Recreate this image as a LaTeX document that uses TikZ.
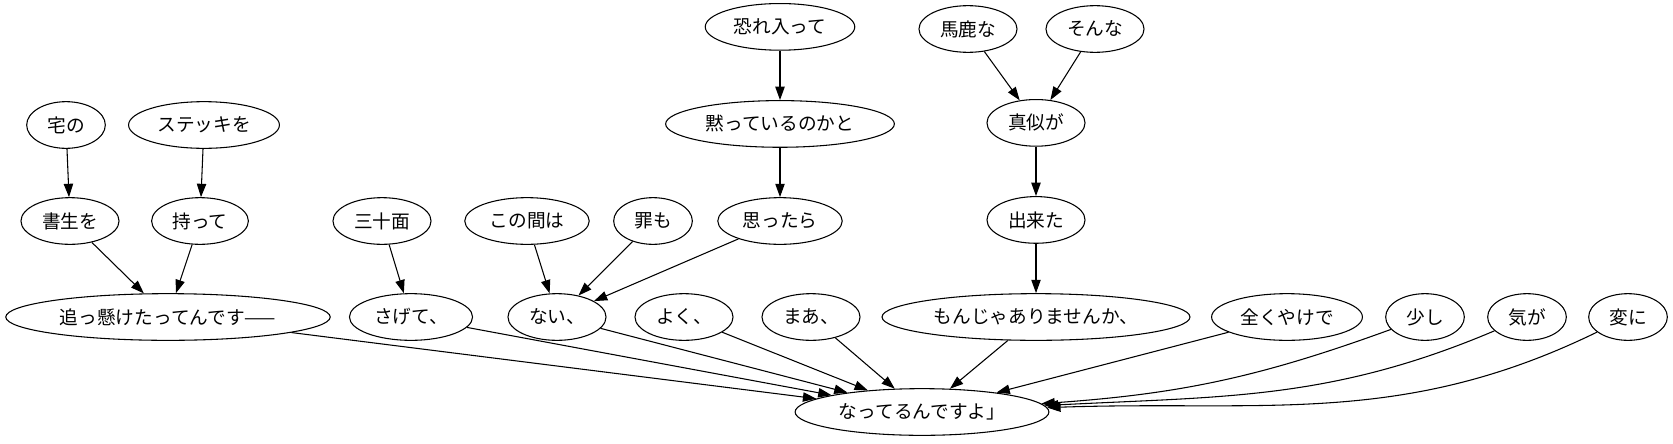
\documentclass[tikz,border=0pt]{standalone}
\usepackage{fontspec}
\setmainfont{Noto Sans CJK JP}
\usetikzlibrary{positioning, arrows.meta, shapes.geometric}

\begin{document}
\begin{tikzpicture}[
    x=0.75pt, y=-0.75pt,
    node distance=37pt,
    every node/.style={draw, ellipse, line width=0.8pt, minimum width=59pt, minimum height=35pt, inner xsep=5pt, inner ysep=3pt, font=\fontsize{14}{16}\selectfont},
    every edge/.style={draw, line width=0.8pt, -{Triangle[length=10pt, width=7pt]}}
]
\useasboundingbox (0,0) rectangle (1673,443);

\node (taku) at (66,125) {宅の};
\node (sutekki) at (204,125) {ステッキを};
\node (shosei) at (70,221) {書生を};
\node (motte) at (200,221) {持って};
\node (okkake) at (168,317) {追っ懸けたってんです——};
\node (sanjumen) at (382,221) {三十面};
\node (sagete) at (411,317) {さげて、};
\node (konoaida) at (527,221) {この間は};
\node (tsumi) at (653,221) {罪も};
\node (nai) at (557,317) {ない、};
\node (omottara) at (780,221) {思ったら};
\node (damatte) [above=of omottara] {黙っているのかと};
\node (osore) [above=of damatte] {恐れ入って};
\node (yoku) at (684,317) {よく、};
\node (maa) at (811,317) {まあ、};
\node (monja) at (1036,317) {もんじゃありませんか、};
\node (dekita) [above=of monja] {出来た};
\node (mane) [above=of dekita] {真似が};
\node (baka) at (968,29) {馬鹿な};
\node (sonna) at (1095,29) {そんな};
\node (mattaku) at (1287,317) {全くやけで};
\node (sukoshi) at (1425,317) {少し};
\node (ki) at (1527,317) {気が};
\node (hen) at (1628,317) {変に};
\node (natteru) at (922,412) {なってるんですよ」};

\path
 (taku) edge (shosei)
 (sutekki) edge (motte)
 (shosei) edge (okkake)
 (motte) edge (okkake)
 (sanjumen) edge (sagete)
 (konoaida) edge (nai)
 (tsumi) edge (nai)
 (omottara) edge (nai)
 (osore) edge (damatte)
 (damatte) edge (omottara)
 (baka) edge (mane)
 (sonna) edge (mane)
 (mane) edge (dekita)
 (dekita) edge (monja)
 (okkake) edge (natteru)
 (sagete) edge (natteru)
 (nai) edge (natteru)
 (yoku) edge (natteru)
 (maa) edge (natteru)
 (monja) edge (natteru)
 (mattaku) edge (natteru)
 (sukoshi) edge [out=200, in=4] (natteru)
 (ki) edge [out=203, in=3] (natteru)
 (hen) edge [out=206, in=2] (natteru);
\end{tikzpicture}
\end{document}
